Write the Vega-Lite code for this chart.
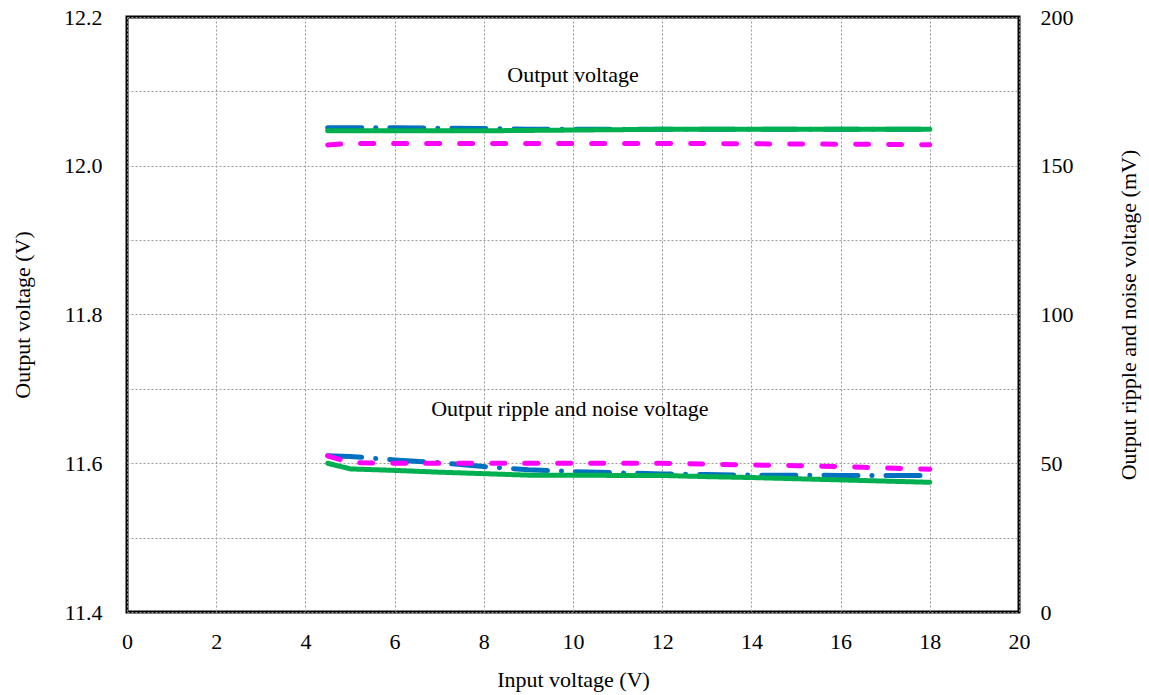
{
  "$schema": "https://vega.github.io/schema/vega-lite/v6.json",
  "autosize": {"type": "none"},
  "width": 892,
  "height": 595,
  "padding": {"left": 127, "top": 17, "right": 130, "bottom": 83},
  "config": {
    "font": "Liberation Serif",
    "view": {"stroke": "black", "strokeWidth": 3},
    "axis": {
      "domain": false,
      "ticks": false,
      "labelFlush": false,
      "labelFont": "Liberation Serif",
      "labelFontSize": 22,
      "labelColor": "black",
      "titleFont": "Liberation Serif",
      "titleFontSize": 22,
      "titleFontWeight": "normal",
      "titleColor": "black",
      "gridColor": "#9a9a9a",
      "gridDash": [2, 2],
      "gridWidth": 1
    }
  },
  "datasets": {
    "meas": [
      {"vin": 4.5, "series": "1", "vout": 12.051, "ripple": 52.5},
      {"vin": 5, "series": "1", "vout": 12.051, "ripple": 52.3},
      {"vin": 6, "series": "1", "vout": 12.051, "ripple": 51.1},
      {"vin": 7, "series": "1", "vout": 12.0505, "ripple": 50.2},
      {"vin": 8, "series": "1", "vout": 12.050, "ripple": 48.9},
      {"vin": 9, "series": "1", "vout": 12.049, "ripple": 47.8},
      {"vin": 10, "series": "1", "vout": 12.049, "ripple": 47.2},
      {"vin": 11, "series": "1", "vout": 12.049, "ripple": 46.8},
      {"vin": 12, "series": "1", "vout": 12.049, "ripple": 46.4},
      {"vin": 13, "series": "1", "vout": 12.049, "ripple": 46.2},
      {"vin": 14, "series": "1", "vout": 12.049, "ripple": 46.0},
      {"vin": 15, "series": "1", "vout": 12.049, "ripple": 46.0},
      {"vin": 16, "series": "1", "vout": 12.049, "ripple": 45.9},
      {"vin": 17, "series": "1", "vout": 12.049, "ripple": 45.9},
      {"vin": 18, "series": "1", "vout": 12.049, "ripple": 45.9},
      {"vin": 4.5, "series": "2", "vout": 12.047, "ripple": 50.0},
      {"vin": 5, "series": "2", "vout": 12.047, "ripple": 48.1},
      {"vin": 6, "series": "2", "vout": 12.047, "ripple": 47.6},
      {"vin": 7, "series": "2", "vout": 12.047, "ripple": 47.0},
      {"vin": 8, "series": "2", "vout": 12.047, "ripple": 46.5},
      {"vin": 9, "series": "2", "vout": 12.0475, "ripple": 46.0},
      {"vin": 10, "series": "2", "vout": 12.048, "ripple": 46.0},
      {"vin": 11, "series": "2", "vout": 12.0485, "ripple": 45.9},
      {"vin": 12, "series": "2", "vout": 12.049, "ripple": 45.9},
      {"vin": 13, "series": "2", "vout": 12.049, "ripple": 45.5},
      {"vin": 14, "series": "2", "vout": 12.049, "ripple": 45.2},
      {"vin": 15, "series": "2", "vout": 12.049, "ripple": 44.8},
      {"vin": 16, "series": "2", "vout": 12.049, "ripple": 44.4},
      {"vin": 17, "series": "2", "vout": 12.049, "ripple": 44.0},
      {"vin": 18, "series": "2", "vout": 12.049, "ripple": 43.6},
      {"vin": 4.5, "series": "3", "vout": 12.028, "ripple": 52.5},
      {"vin": 5, "series": "3", "vout": 12.030, "ripple": 50.2},
      {"vin": 6, "series": "3", "vout": 12.030, "ripple": 50.0},
      {"vin": 7, "series": "3", "vout": 12.030, "ripple": 50.0},
      {"vin": 8, "series": "3", "vout": 12.030, "ripple": 50.0},
      {"vin": 9, "series": "3", "vout": 12.030, "ripple": 50.0},
      {"vin": 10, "series": "3", "vout": 12.030, "ripple": 50.0},
      {"vin": 11, "series": "3", "vout": 12.030, "ripple": 50.0},
      {"vin": 12, "series": "3", "vout": 12.030, "ripple": 50.0},
      {"vin": 13, "series": "3", "vout": 12.0298, "ripple": 49.7},
      {"vin": 14, "series": "3", "vout": 12.0295, "ripple": 49.4},
      {"vin": 15, "series": "3", "vout": 12.0292, "ripple": 49.2},
      {"vin": 16, "series": "3", "vout": 12.029, "ripple": 48.9},
      {"vin": 17, "series": "3", "vout": 12.0287, "ripple": 48.4},
      {"vin": 18, "series": "3", "vout": 12.0283, "ripple": 48.0}
    ],
    "notes": [
      {"vin": 10.0, "vout": 12.1126, "label": "Output voltage"},
      {"vin": 9.93, "vout": 11.6635, "label": "Output ripple and noise voltage"}
    ]
  },
  "layer": [
    {
      "layer": [
        {
          "data": {"name": "meas"},
          "mark": {"type": "line", "strokeWidth": 5, "strokeCap": "round", "strokeJoin": "round", "clip": true},
          "encoding": {
            "x": {
              "field": "vin", "type": "quantitative",
              "scale": {"domain": [0, 20], "nice": false, "zero": false},
              "axis": {"title": "Input voltage (V)", "values": [0, 2, 4, 6, 8, 10, 12, 14, 16, 18, 20], "labelPadding": 19, "titlePadding": 17, "grid": true}
            },
            "y": {
              "field": "vout", "type": "quantitative",
              "scale": {"domain": [11.4, 12.2], "nice": false, "zero": false},
              "axis": {
                "title": "Output voltage (V)",
                "orient": "left",
                "values": [11.4, 11.5, 11.6, 11.7, 11.8, 11.9, 12.0, 12.1, 12.2],
                "labelExpr": "round(datum.value*10) % 2 == 0 ? format(datum.value, '.1f') : ''",
                "labelPadding": 25,
                "titlePadding": 29,
                "grid": true
              }
            },
            "color": {
              "field": "series", "type": "nominal",
              "scale": {"domain": ["1", "2", "3"], "range": ["#0070C0", "#00B050", "#FF00FF"]},
              "legend": null
            },
            "strokeDash": {
              "field": "series", "type": "nominal",
              "scale": {"domain": ["1", "2", "3"], "range": [[34, 14, 0.1, 14], [1, 0], [13, 20]]},
              "legend": null
            },
            "order": {"field": "vin", "type": "quantitative"}
          }
        },
        {
          "data": {"name": "notes"},
          "mark": {"type": "text", "font": "Liberation Serif", "fontSize": 22, "color": "black", "align": "center", "baseline": "alphabetic"},
          "encoding": {
            "x": {"field": "vin", "type": "quantitative"},
            "y": {"field": "vout", "type": "quantitative"},
            "text": {"field": "label", "type": "nominal"}
          }
        }
      ]
    },
    {
      "data": {"name": "meas"},
      "mark": {"type": "line", "strokeWidth": 5, "strokeCap": "round", "strokeJoin": "round", "clip": true},
      "encoding": {
        "x": {"field": "vin", "type": "quantitative"},
        "y": {
          "field": "ripple", "type": "quantitative",
          "scale": {"domain": [0, 200], "nice": false, "zero": false},
          "axis": {
            "title": "Output ripple and noise voltage (mV)",
            "orient": "right",
            "titleAngle": 270,
            "titleBaseline": "bottom",
            "values": [0, 50, 100, 150, 200],
            "labelPadding": 21,
            "titlePadding": 67,
            "grid": false
          }
        },
        "color": {
          "field": "series", "type": "nominal",
          "scale": {"domain": ["1", "2", "3"], "range": ["#0070C0", "#00B050", "#FF00FF"]},
          "legend": null
        },
        "strokeDash": {
          "field": "series", "type": "nominal",
          "scale": {"domain": ["1", "2", "3"], "range": [[34, 14, 0.1, 14], [1, 0], [13, 20]]},
          "legend": null
        },
        "order": {"field": "vin", "type": "quantitative"}
      }
    }
  ],
  "resolve": {"scale": {"y": "independent"}}
}
